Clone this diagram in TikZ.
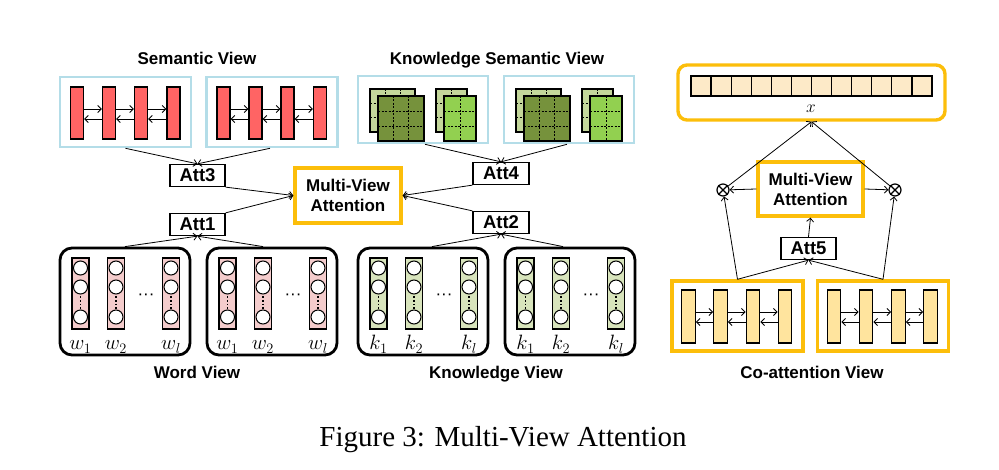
\documentclass[tikz,border=0pt]{standalone}
\usepackage{fontspec}
\setmainfont{Liberation Serif}
\setsansfont{Liberation Sans}
\usetikzlibrary{arrows.meta}
\definecolor{sblue}{RGB}{180,221,232}
\definecolor{gold}{RGB}{252,190,10}
\definecolor{redbarc}{RGB}{255,100,100}
\definecolor{pinkc}{RGB}{244,204,204}
\definecolor{kgreen}{RGB}{216,228,188}
\definecolor{kspale}{RGB}{196,215,155}
\definecolor{ksdark}{RGB}{118,146,60}
\definecolor{ksbright}{RGB}{146,208,80}
\definecolor{ybar}{RGB}{255,228,158}
\definecolor{peach}{RGB}{253,234,200}

\newcommand\kcardA[5]{%
  \fill[#5] (#1,#2) rectangle (#3,#4);
  \draw[gd] ({(#1)+((#3)-(#1))/3},#2) -- ({(#1)+((#3)-(#1))/3},#4)
            ({(#1)+2*((#3)-(#1))/3},#2) -- ({(#1)+2*((#3)-(#1))/3},#4)
            (#1,{(#2)+((#4)-(#2))/3}) -- (#3,{(#2)+((#4)-(#2))/3})
            (#1,{(#2)+2*((#4)-(#2))/3}) -- (#3,{(#2)+2*((#4)-(#2))/3});
  \draw[line width=1.4pt] (#1,#2) rectangle (#3,#4);}
\newcommand\kcardB[5]{%
  \fill[#5] (#1,#2) rectangle (#3,#4);
  \draw[gd] ({((#1)+(#3))/2},#2) -- ({((#1)+(#3))/2},#4)
            (#1,{(#2)+((#4)-(#2))/3}) -- (#3,{(#2)+((#4)-(#2))/3})
            (#1,{(#2)+2*((#4)-(#2))/3}) -- (#3,{(#2)+2*((#4)-(#2))/3});
  \draw[line width=1.4pt] (#1,#2) rectangle (#3,#4);}
% word / knowledge column: #1 name, #2 x, #3 fill
\newcommand\wcol[3]{%
  \node[colbox, fill=#3] (#1) at (#2,293.5) {};
  \node[cir] (#1-a) at (#2,268) {};
  \node[cir] (#1-b) at (#2,287) {};
  \node[cir] (#1-c) at (#2,317) {};
  \draw[line width=1.8pt, dash pattern=on 1.8pt off 2pt] (#2,296) -- (#2,309);}

\begin{document}
\begin{tikzpicture}[x=1pt,y=-1pt,
  lab/.style={font=\sffamily\bfseries\fontsize{17}{20}\selectfont},
  arr/.style={line width=0.8pt,-{Straight Barb[length=3.5pt,width=7pt]}},
  sembox/.style={draw=sblue,line width=2.6pt,minimum width=131pt,minimum height=70pt,inner sep=0pt},
  ksbox/.style={draw=sblue,line width=2.6pt,minimum width=130pt,minimum height=67pt,inner sep=0pt},
  viewbox/.style={draw,line width=2.8pt,rounded corners=12pt,minimum width=130pt,minimum height=107pt,inner sep=0pt},
  goldbox/.style={draw=gold,line width=3.4pt,inner sep=0pt},
  redbar/.style={draw,line width=1.4pt,fill=redbarc,minimum width=13pt,minimum height=52pt,inner sep=0pt},
  ybarst/.style={draw,line width=1.4pt,fill=ybar,minimum width=13.5pt,minimum height=53pt,inner sep=0pt},
  colbox/.style={draw,line width=1.4pt,minimum width=17pt,minimum height=71pt,inner sep=0pt},
  cir/.style={circle,draw,line width=1pt,fill=white,minimum size=14pt,inner sep=0pt},
  attbox/.style={draw,line width=1.3pt,inner sep=0pt,minimum width=55pt,minimum height=22pt,
     font=\sffamily\bfseries\fontsize{18.5}{20}\selectfont},
  mvabox/.style={goldbox,align=center,font=\sffamily\bfseries\fontsize{17}{20}\selectfont},
  cell/.style={draw,line width=1.3pt,fill=peach,minimum width=20.08pt,minimum height=20pt,inner sep=0pt},
  otim/.style={circle,draw,line width=1.2pt,fill=white,minimum size=12pt,inner sep=0pt},
  gd/.style={line width=0.9pt,dash pattern=on 2pt off 1.5pt},
  wlab/.style={anchor=base,font=\fontsize{20.74}{22}\selectfont},
  dotslab/.style={font=\sffamily\fontsize{17}{20}\selectfont}
]
\useasboundingbox[fill=white] (0,0) rectangle (999,470);

% ---------- titles ----------
\node[lab,anchor=base] (lsv)  at (197,65)  {Semantic View};
\node[lab,anchor=base] (lksv) at (497,65)  {Knowledge Semantic View};
\node[lab,anchor=base] (lwv)  at (197,378) {Word View};
\node[lab,anchor=base] (lkv)  at (496,378) {Knowledge View};
\node[lab,anchor=base] (lcv)  at (812,378) {Co-attention View};
\node[anchor=base,font=\fontsize{29}{32}\selectfont] (cap) at (503,446) {Figure 3: Multi-View Attention};

% ---------- semantic view ----------
\foreach \g/\ox in {1/0,2/146.5} {
  \node[sembox] (sb\g) at (125.5+\ox,112) {};
  \foreach \i/\cx in {1/77,2/109,3/141,4/173.5}
    \node[redbar] (s\g-\i) at (\cx+\ox,113) {};
  \foreach \i/\j in {1/2,2/3,3/4} {
    \draw[arr] ([yshift=4pt]s\g-\i.east) -- ([yshift=4pt]s\g-\j.west);
    \draw[arr] ([yshift=-6pt]s\g-\j.west) -- ([yshift=-6pt]s\g-\i.east);
  }
}

% ---------- knowledge semantic view ----------
\foreach \g/\ox in {1/0,2/146} {
  \node[ksbox] (ks\g) at (423+\ox,109.5) {};
  \kcardA{370+\ox}{89}{415+\ox}{132}{kspale}
  \kcardA{378+\ox}{96}{424+\ox}{141}{ksdark}
  \kcardB{436+\ox}{89}{467+\ox}{132}{kspale}
  \kcardB{444+\ox}{96}{476+\ox}{141}{ksbright}
}

% ---------- word view & knowledge view ----------
\foreach \v/\vx/\fc/\lt in {w/0/pinkc/w,k/298/kgreen/k} {
  \foreach \g/\ox in {1/0,2/147} {
    \node[viewbox] (\v b\g) at (125+\vx+\ox,301.5) {};
    \wcol{\v\g-1}{80.5+\vx+\ox}{\fc}
    \wcol{\v\g-2}{116+\vx+\ox}{\fc}
    \wcol{\v\g-3}{171+\vx+\ox}{\fc}
    \node[dotslab] (\v\g-dots) at (146+\vx+\ox,297) {\char"00B7\char"00B7\char"00B7};
    \node[wlab] (\v\g-l1) at (80.5+\vx+\ox,350) {$\lt_1$};
    \node[wlab] (\v\g-l2) at (116+\vx+\ox,350) {$\lt_2$};
    \node[wlab] (\v\g-l3) at (171+\vx+\ox,350) {$\lt_l$};
  }
}

% ---------- attention boxes ----------
\node[attbox] (att3) at (197.5,175.5) {Att3};
\node[attbox] (att1) at (197.5,224.5) {Att1};
\node[attbox,minimum width=56pt] (att4) at (501,173.5) {Att4};
\node[attbox,minimum width=56pt] (att2) at (501,222.5) {Att2};
\node[mvabox,minimum width=106pt,minimum height=55pt] (mva) at (348,195.5) {Multi-View\\Attention};

\draw[arr] (sb1.south) -- (att3.north);
\draw[arr] ([xshift=-2pt]sb2.south) -- (att3.north);
\draw[arr] ([xshift=2pt]ks1.south) -- (att4.north);
\draw[arr] ([xshift=-2pt]ks2.south) -- (att4.north);
\draw[arr] (wb1.north) -- (att1.south);
\draw[arr] ([xshift=-9pt]wb2.north) -- (att1.south);
\draw[arr] ([xshift=9pt]kb1.north) -- (att2.south);
\draw[arr] ([xshift=-7pt]kb2.north) -- (att2.south);
\draw[arr] (att3.south east) -- (mva.west);
\draw[arr] (att1.north east) -- (mva.west);
\draw[arr] (att4.south west) -- (mva.east);
\draw[arr] (att2.north west) -- (mva.east);

% ---------- co-attention view ----------
\node[goldbox,rounded corners=9pt,minimum width=267pt,minimum height=55pt] (xbox) at (811.5,92.5) {};
\foreach \i in {0,...,11}
  \node[cell] (c\i) at (701.04+20.08*\i,86) {};
\node[font=\fontsize{17.28}{18}\selectfont] (xl) at (811,109) {$x$};

\node[mvabox,minimum width=105pt,minimum height=54pt] (mva2) at (810.5,189) {Multi-View\\Attention};
\node[otim] (o1) at (723,190) {};
\node[otim] (o2) at (895,190) {};
\draw[line width=1.2pt] (o1.north west) -- (o1.south east) (o1.north east) -- (o1.south west);
\draw[line width=1.2pt] (o2.north west) -- (o2.south east) (o2.north east) -- (o2.south west);
\node[attbox] (att5) at (808.5,248.5) {Att5};

\foreach \g/\ox in {1/0,2/145.5} {
  \node[goldbox,minimum width=131pt,minimum height=70pt] (cb\g) at (737.5+\ox,316) {};
  \foreach \i/\cx in {1/688.5,2/720.5,3/753,4/785}
    \node[ybarst] (y\g-\i) at (\cx+\ox,316.5) {};
  \foreach \i/\j in {1/2,2/3,3/4} {
    \draw[arr] ([yshift=4.5pt]y\g-\i.east) -- ([yshift=4.5pt]y\g-\j.west);
    \draw[arr] ([yshift=-5.5pt]y\g-\j.west) -- ([yshift=-5.5pt]y\g-\i.east);
  }
}

\draw[arr] (mva2.west) -- (o1);
\draw[arr] (mva2.east) -- (o2);
\draw[arr] (o1) -- (xbox.south);
\draw[arr] (o2) -- (xbox.south);
\draw[arr] (cb1.north) -- (o1);
\draw[arr] (cb2.north) -- (o2);
\draw[arr] (cb1.north) -- (att5.south);
\draw[arr] (cb2.north) -- (att5.south);
\draw[arr] (att5.north) -- (mva2.south);
\end{tikzpicture}
\end{document}
